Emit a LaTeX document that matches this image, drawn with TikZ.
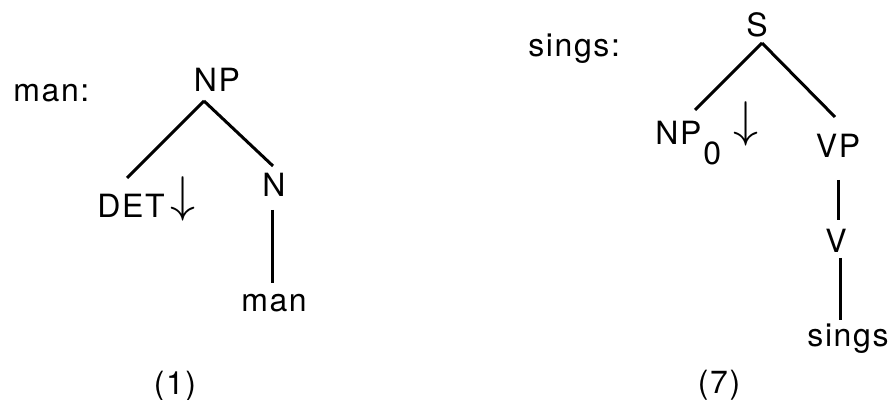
\documentclass[tikz,border=0pt]{standalone}
\usepackage{fontspec}
\setmainfont[LetterSpace=5]{TeX Gyre Heros}
\usetikzlibrary{calc}
\newcommand{\subst}{\scalebox{1.45}{$\downarrow$}}
\tikzset{
  cat/.style={inner sep=0pt, anchor=base, font=\fontsize{16}{19}\selectfont},
  branch/.style={line width=1.5pt}
}
\begin{document}
\begin{tikzpicture}[x=0.5pt, y=-0.5pt]
    \useasboundingbox (0,0) rectangle (895,400);
    % tree (1)
    \node[cat, anchor=base west] (manlbl) at (13,102) {man:};
    \node[cat] (np) at (217,92) {NP};
    \node[cat, anchor=base west] (det) at (97,218) {DET\hspace{3pt}\raisebox{3pt}{\subst}};
    \node[cat] (n) at (274,197) {N};
    \node[cat] (man) at (274,312) {man};
    \node[cat] (one) at (175,395) {(1)};
    \draw[branch] ($(np.base)+(-13,9)$) -- ($(det.base west)+(30,-40)$);
    \draw[branch] ($(np.base)+(-13,9)$) -- ($(n.base)+(-1,-31)$);
    \draw[branch] ($(n.base)+(-2,13)$) -- ($(man.base)+(-2,-29)$);
    % tree (7)
    \node[cat, anchor=base west] (singslbl) at (528,57) {sings:};
    \node[cat] (s) at (757,37) {S};
    \node[cat, anchor=base west] (npz) at (655,145) {NP\hspace{1pt}\raisebox{-10pt}{0}\hspace{6pt}\raisebox{4pt}{\subst}};
    \node[cat] (vp) at (838,158) {VP};
    \node[cat] (v) at (836,253) {V};
    \node[cat] (sings) at (848,347) {sings};
    \node[cat] (seven) at (719,394) {(7)};
    \draw[branch] ($(s.base)+(5,6)$) -- ($(npz.base west)+(40,-35)$);
    \draw[branch] ($(s.base)+(5,6)$) -- ($(vp.base)+(-3,-41)$);
    \draw[branch] ($(vp.base)+(0,22)$) -- ($(v.base)+(2,-33)$);
    \draw[branch] ($(v.base)+(4,5)$) -- ($(sings.base)+(-8,-27)$);
 \end{tikzpicture}
\end{document}
